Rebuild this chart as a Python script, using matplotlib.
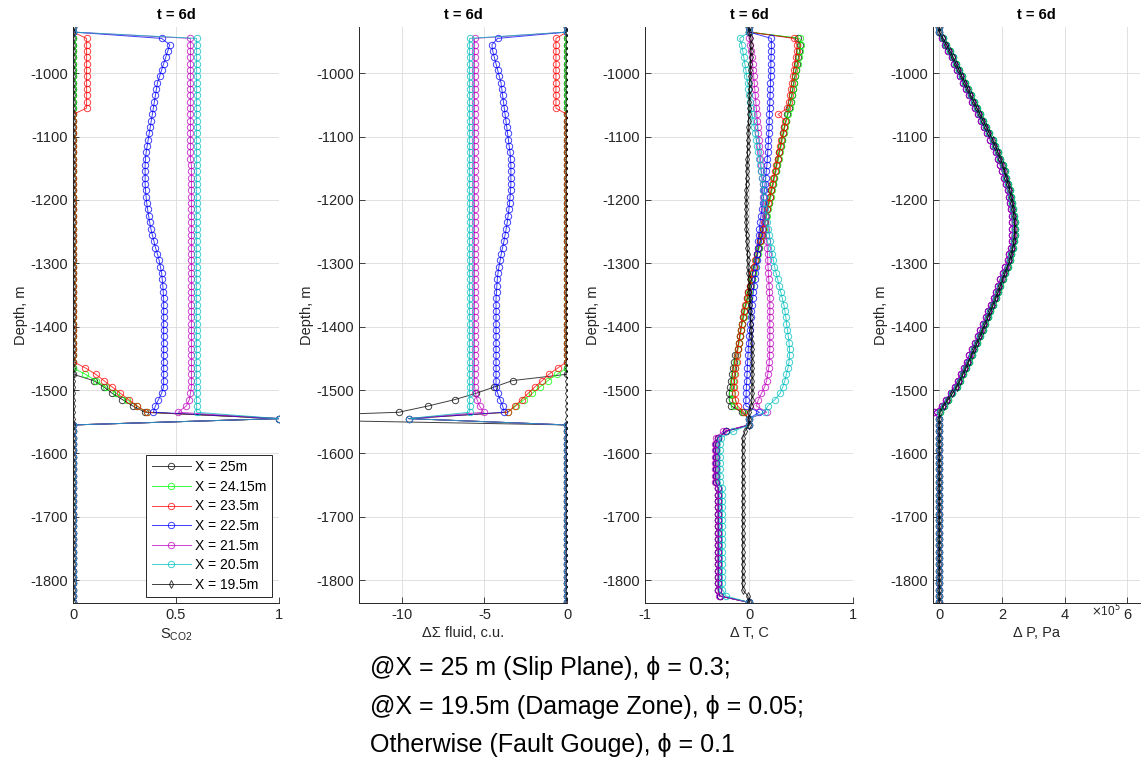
import matplotlib
matplotlib.use('Agg')
import matplotlib.pyplot as plt

plt.rcParams['font.family'] = ['Liberation Sans', 'DejaVu Sans']

# cell centre depths, m (two top cells, 60 reservoir cells -945..-1535, then below)
DEPTH = [-927, -935] + list(range(-945, -1836, -10))

LABELS = ['X = 25m', 'X = 24.15m', 'X = 23.5m', 'X = 22.5m',
          'X = 21.5m', 'X = 20.5m', 'X = 19.5m']
COLORS = ['k', (0, 1, 0), 'r', 'b', 'm', 'c', 'k']
MARKERS = ['o', 'o', 'o', 'o', 'o', 'o', 'd']

# ---- CO2 saturation, reservoir cells -945 .. -1535
SAT_25 = [0.0] * 54 + [0.10, 0.15, 0.19, 0.24, 0.29, 0.35]
SAT_2415 = [0.0] * 53 + [0.06, 0.11, 0.16, 0.21, 0.26, 0.31, 0.36]
SAT_235 = [0.066] * 12 + [0.0] * 40 + [0.06, 0.11, 0.15, 0.19, 0.23, 0.27, 0.31, 0.36]
SAT_225 = [0.43, 0.47, 0.46, 0.45, 0.44, 0.43, 0.42, 0.41, 0.405, 0.40,
           0.395, 0.39, 0.385, 0.38, 0.375, 0.37, 0.365, 0.36, 0.355, 0.352,
           0.35, 0.35, 0.35, 0.35, 0.352, 0.355, 0.358, 0.362, 0.367, 0.372,
           0.378, 0.385, 0.393, 0.40, 0.41, 0.418, 0.424, 0.43, 0.433, 0.436,
           0.438] + [0.44] * 15 + [0.43, 0.415, 0.40, 0.39]
SAT_215 = [0.57] * 20 + [0.575] * 36 + [0.57, 0.565, 0.55, 0.51]
SAT_205 = [0.60] * 60
SAT_195 = [0.0] * 60
SAT_1545 = [1.0, 1.0, 1.0, 1.0, 1.0, 1.0, 0.0]

# ---- change of fluid sigma, c.u.
SIG_25 = [0.0] * 54 + [-3.3, -4.4, -5.5, -6.8, -8.4, -10.2]
SIG_2415 = [0.0] * 53 + [-0.6, -1.15, -1.65, -2.1, -2.6, -3.1, -3.6]
SIG_235 = [-0.67] * 12 + [0.0] * 40 + [-0.55, -1.1, -1.5, -1.95, -2.35, -2.75, -3.15, -3.6]
SIG_225 = [-4.2, -4.55, -4.5, -4.4, -4.3, -4.2, -4.1, -4.0, -3.95, -3.9,
           -3.85, -3.8, -3.75, -3.7, -3.65, -3.6, -3.55, -3.5, -3.45, -3.42,
           -3.4, -3.4, -3.4, -3.4, -3.42, -3.45, -3.48, -3.52, -3.57, -3.62,
           -3.68, -3.75, -3.82, -3.9, -3.98, -4.05, -4.12, -4.18, -4.22, -4.25,
           -4.27] + [-4.3] * 15 + [-4.2, -4.05, -3.9, -3.8]
SIG_215 = [-5.6] * 56 + [-5.55, -5.45, -5.3, -5.05]
SIG_205 = [-5.9] * 60
SIG_195 = [0.0] * 60
SIG_1545 = [-21.0, -9.6, -9.6, -9.6, -9.6, -9.6, 0.0]

# ---- temperature change, C
DT_25 = [0.47, 0.49, 0.485, 0.475, 0.465, 0.45, 0.44, 0.43, 0.42, 0.41,
         0.40, 0.385, 0.37, 0.355, 0.34, 0.33, 0.315, 0.305, 0.29, 0.28,
         0.265, 0.255, 0.24, 0.23, 0.215, 0.205, 0.19, 0.175, 0.165, 0.15,
         0.135, 0.125, 0.11, 0.095, 0.08, 0.065, 0.05, 0.035, 0.025, 0.01,
         -0.005, -0.015, -0.03, -0.045, -0.055, -0.07, -0.08, -0.09, -0.10, -0.11,
         -0.13, -0.14, -0.15, -0.16, -0.17, -0.18, -0.19, -0.19, -0.17, -0.07]
DT_2415 = [0.49, 0.50, 0.49, 0.48, 0.47, 0.455, 0.445, 0.435, 0.425, 0.415,
           0.405, 0.39, 0.375, 0.36, 0.345, 0.335, 0.32, 0.31, 0.295, 0.285,
           0.27, 0.26, 0.245, 0.235, 0.22, 0.21, 0.195, 0.18, 0.17, 0.155,
           0.14, 0.13, 0.115, 0.10, 0.085, 0.07, 0.055, 0.04, 0.03, 0.015,
           0.0, -0.01, -0.025, -0.04, -0.05, -0.065, -0.075, -0.085, -0.095, -0.105,
           -0.115, -0.125, -0.135, -0.14, -0.15, -0.155, -0.16, -0.16, -0.14, -0.06]
DT_235 = [0.43, 0.46, 0.46, 0.45, 0.44, 0.43, 0.42, 0.41, 0.40, 0.39,
          0.38, 0.37, 0.28, 0.35, 0.34, 0.325, 0.31, 0.30, 0.285, 0.275,
          0.26, 0.25, 0.235, 0.225, 0.21, 0.20, 0.185, 0.17, 0.16, 0.145,
          0.13, 0.12, 0.105, 0.09, 0.075, 0.06, 0.045, 0.03, 0.02, 0.005,
          -0.01, -0.02, -0.035, -0.05, -0.06, -0.07, -0.08, -0.09, -0.10, -0.11,
          -0.115, -0.12, -0.13, -0.135, -0.14, -0.14, -0.135, -0.13, -0.11, -0.05]
DT_225 = [0.215, 0.215, 0.215, 0.212, 0.21, 0.21, 0.208, 0.206, 0.204, 0.202,
          0.20, 0.198, 0.196, 0.194, 0.192, 0.19, 0.187, 0.184, 0.18, 0.176,
          0.172, 0.166, 0.16, 0.154, 0.148, 0.14, 0.132, 0.123, 0.115, 0.107,
          0.10, 0.095, 0.09, 0.085, 0.08, 0.075, 0.068, 0.062, 0.055, 0.048,
          0.042, 0.036, 0.03, 0.024, 0.018, 0.012, 0.007, 0.002, -0.003, -0.007,
          -0.01, -0.013, -0.016, -0.019, -0.022, -0.025, -0.027, -0.03, -0.03, 0.10]
DT_215 = [0.0, 0.01, 0.02, 0.03, 0.035, 0.04, 0.045, 0.05, 0.055, 0.06,
          0.065, 0.07, 0.075, 0.08, 0.085, 0.09, 0.095, 0.10, 0.105, 0.11,
          0.115, 0.12, 0.125, 0.13, 0.13, 0.135, 0.14, 0.145, 0.15, 0.155,
          0.16, 0.165, 0.17, 0.175, 0.178, 0.18, 0.183, 0.186, 0.19, 0.193,
          0.196, 0.20, 0.20, 0.20, 0.20, 0.20, 0.20, 0.20, 0.20, 0.20,
          0.198, 0.195, 0.19, 0.18, 0.17, 0.15, 0.12, 0.09, 0.07, 0.17]
DT_205 = [-0.09, -0.07, -0.06, -0.05, -0.04, -0.03, -0.022, -0.014, -0.006, 0.002,
          0.01, 0.02, 0.03, 0.04, 0.05, 0.06, 0.07, 0.08, 0.09, 0.10,
          0.108, 0.115, 0.122, 0.13, 0.135, 0.14, 0.148, 0.156, 0.165, 0.175,
          0.185, 0.195, 0.205, 0.215, 0.225, 0.235, 0.245, 0.26, 0.275, 0.29,
          0.305, 0.32, 0.335, 0.345, 0.355, 0.36, 0.37, 0.378, 0.385, 0.39,
          0.39, 0.385, 0.375, 0.36, 0.345, 0.325, 0.30, 0.25, 0.18, 0.15]
DT_195 = [0.02, 0.02, 0.018, 0.016, 0.014, 0.012, 0.01, 0.008, 0.006, 0.004,
          0.002, 0.0, -0.002, -0.004, -0.006, -0.008, -0.01, -0.012, -0.014, -0.016,
          -0.018, -0.02, -0.022, -0.024, -0.025, -0.026, -0.027, -0.027, -0.027, -0.026,
          -0.025, -0.023, -0.02, -0.017, -0.014, -0.011, -0.008, -0.005, -0.002, 0.001,
          0.004, 0.007, 0.01, 0.013, 0.016, 0.019, 0.022, 0.024, 0.026, 0.028,
          0.03, 0.03, 0.03, 0.03, 0.03, 0.03, 0.03, 0.028, 0.02, 0.0]
# cells below the reservoir, -1565 .. -1835
DT_TAIL = [-0.22, -0.30] + [-0.32] * 7 + [-0.295] * 17 + [-0.28, 0.0]
DT_TAIL_215 = [-0.25, -0.32] + [-0.33] * 7 + [-0.30] * 17 + [-0.29, 0.0]
DT_TAIL_205 = [-0.15, -0.27] + [-0.28] * 7 + [-0.255] * 17 + [-0.22, 0.0]
DT_TAIL_195 = [-0.04] + [-0.06] * 25 + [-0.01, 0.0]

# ---- pressure change, x1e5 Pa (all positions nearly coincide)
DP_RES = [0.12, 0.23, 0.34, 0.44, 0.53, 0.63, 0.72, 0.82, 0.91, 1.0,
          1.1, 1.2, 1.3, 1.4, 1.5, 1.6, 1.7, 1.79, 1.87, 1.95,
          2.02, 2.08, 2.14, 2.2, 2.25, 2.29, 2.33, 2.36, 2.38, 2.4,
          2.4, 2.4, 2.38, 2.35, 2.3, 2.25, 2.18, 2.1, 2.02, 1.95,
          1.88, 1.8, 1.72, 1.63, 1.55, 1.47, 1.38, 1.3, 1.21, 1.12,
          1.03, 0.94, 0.85, 0.75, 0.66, 0.56, 0.42, 0.28, 0.14, 0.02]
DP_RES_LEFT = [0.08, 0.18, 0.29, 0.39, 0.48, 0.57, 0.66, 0.76, 0.85, 0.94,
               1.03, 1.13, 1.23, 1.33, 1.43, 1.53, 1.63, 1.72, 1.8, 1.88,
               1.95, 2.01, 2.07, 2.13, 2.18, 2.22, 2.26, 2.29, 2.31, 2.33,
               2.33, 2.33, 2.31, 2.28, 2.23, 2.18, 2.11, 2.03, 1.95, 1.88,
               1.81, 1.73, 1.65, 1.56, 1.48, 1.4, 1.31, 1.23, 1.14, 1.05,
               0.96, 0.87, 0.78, 0.68, 0.59, 0.49, 0.36, 0.22, 0.08, -0.18]


def column(res, at_1545=0.0, tail=None):
    if tail is None:
        tail = [0.0] * 28
    return [0.0, 0.0] + res + [at_1545, 0.0] + tail


sat = [column(s, v) for s, v in zip(
    [SAT_25, SAT_2415, SAT_235, SAT_225, SAT_215, SAT_205, SAT_195], SAT_1545)]
sig = [column(s, v) for s, v in zip(
    [SIG_25, SIG_2415, SIG_235, SIG_225, SIG_215, SIG_205, SIG_195], SIG_1545)]
dt = [column(DT_25, tail=DT_TAIL), column(DT_2415, tail=DT_TAIL),
      column(DT_235, tail=DT_TAIL), column(DT_225, tail=DT_TAIL),
      column(DT_215, tail=DT_TAIL_215), column(DT_205, tail=DT_TAIL_205),
      column(DT_195, tail=DT_TAIL_195)]
dp = [column(DP_RES), column(DP_RES), column(DP_RES_LEFT), column(DP_RES_LEFT),
      column(DP_RES_LEFT), column(DP_RES), column(DP_RES)]

W, H = 1144, 763
fig = plt.figure(figsize=(W / 100, H / 100), dpi=100)

AX_GRAY = '#262626'
panels = [
    (73, 206, sat, (0, 1), [0, 0.5, 1], ['0', '0.5', '1'], r'S$_{\mathregular{CO2}}$'),
    (359, 208, sig, (-12.6, 0), [-10, -5, 0], ['-10', '-5', '0'], 'ΔΣ fluid, c.u.'),
    (645, 208, dt, (-1, 1), [-1, 0, 1], ['-1', '0', '1'], 'Δ T, C'),
    (933, 207, dp, (-0.2, 6.4), [0, 2, 4, 6], ['0', '2', '4', '6'], 'Δ P, Pa'),
]

axes = []
for left, width, data, xlim, xt, xtl, xlab in panels:
    ax = fig.add_axes([left / W, (H - 603) / H, width / W, 576 / H])
    for k in range(7):
        ax.plot(data[k], DEPTH, color=COLORS[k], marker=MARKERS[k],
                markersize=4.6 if MARKERS[k] == 'o' else 4.2,
                markerfacecolor='none', markeredgewidth=0.7,
                linewidth=0.7, alpha=0.75, label=LABELS[k])
    ax.set_xlim(*xlim)
    ax.set_ylim(-1836, -927)
    ax.set_xticks(xt)
    ax.set_xticklabels(xtl)
    ax.set_yticks(range(-1800, -999, 100))
    ax.set_yticklabels([str(v) for v in range(-1800, -999, 100)])
    ax.grid(True, color='#dcdcdc', linewidth=0.6)
    ax.set_axisbelow(True)
    for side in ['top', 'right']:
        ax.spines[side].set_visible(False)
    for side in ['left', 'bottom']:
        ax.spines[side].set_color(AX_GRAY)
        ax.spines[side].set_linewidth(0.7)
    ax.tick_params(direction='in', length=4, width=0.6, colors=AX_GRAY,
                   labelsize=10.5, labelcolor=AX_GRAY)
    ax.set_title('t = 6d', fontsize=10.5, fontweight='bold', pad=6)
    ax.set_ylabel('Depth, m', fontsize=10.5, color=AX_GRAY, labelpad=2)
    ax.set_xlabel(xlab, fontsize=10.5, color=AX_GRAY, labelpad=3)
    axes.append(ax)

axes[3].text(0.905, 0.0, r'$\times$10$^{5}$', transform=axes[3].transAxes,
             ha='right', va='top', fontsize=8.5, color=AX_GRAY)

leg = axes[0].legend(loc='lower right', bbox_to_anchor=(0.965, 0.01),
                     fontsize=10, handlelength=2.8, labelspacing=0.4,
                     borderpad=0.4, handletextpad=0.3, borderaxespad=0,
                     fancybox=False, edgecolor=AX_GRAY, framealpha=1)
leg.get_frame().set_linewidth(0.7)

NOTE = ['@X = 25 m (Slip Plane), ϕ = 0.3;',
        '@X = 19.5m (Damage Zone), ϕ = 0.05;',
        'Otherwise (Fault Gouge), ϕ = 0.1']
for line, yc in zip(NOTE, [668, 707, 745]):
    fig.text(370 / W, 1 - yc / H, line, va='center', ha='left', fontsize=18,
             family=['Liberation Sans', 'DejaVu Sans'])

fig.savefig('out.png', dpi=100)
